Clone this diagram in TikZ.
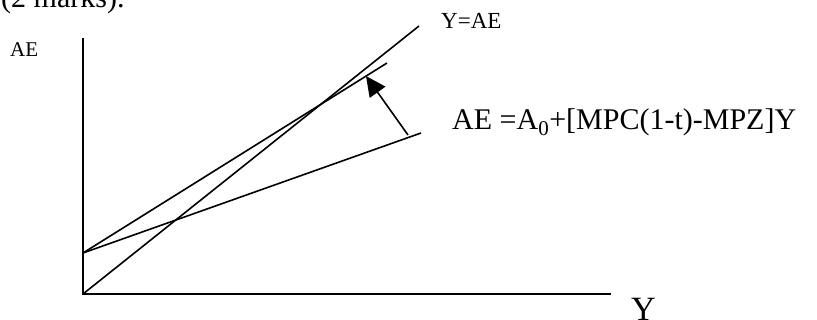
\documentclass[tikz,border=0pt]{standalone}
\usepackage{fontspec}
\setmainfont{Liberation Serif}
\usetikzlibrary{arrows.meta}
\tikzset{
  ln/.style={line width=1.6pt, black},
  lbl/.style={inner sep=0pt, anchor=base west, text=black},
}
\begin{document}
\begin{tikzpicture}[x=1pt, y=-1pt]
\useasboundingbox (0,0) rectangle (817,320);
\clip (0,0) rectangle (817,320);
% coordinates
\coordinate (O) at (83,294);
\coordinate (Ytop) at (83,38);
\coordinate (Xend) at (611,294);
\coordinate (I) at (83,253);
\coordinate (L45) at (419,26);
\coordinate (Lnew) at (387,63);
\coordinate (Lold) at (421,133);
\coordinate (Atail) at (408,135);
\coordinate (Atip) at (366,76);
% axes
\draw[ln] (Ytop) -- (O) -- (Xend);
% lines
\draw[ln] (O) -- (L45);
\draw[ln] (I) -- (Lnew);
\draw[ln] (I) -- (Lold);
\draw[ln, -{Triangle[length=20pt, width=19pt]}] (Atail) -- (Atip);
% labels
\node[lbl, font=\fontsize{30}{36}\selectfont] (marks) at (1,8) {(2 marks).};
\node[lbl, font=\fontsize{21}{25}\selectfont] (ae) at (10,57) {AE};
\node[lbl, font=\fontsize{23}{27}\selectfont] (yae) at (441,29) {Y=AE};
\node[lbl, font=\fontsize{30}{36}\selectfont] (eq) at (452,130) {AE =A\textsubscript{0}+[MPC(1-t)-MPZ]Y};
\node[lbl, font=\fontsize{34}{40}\selectfont] (yl) at (631,321) {Y};
\end{tikzpicture}
\end{document}
